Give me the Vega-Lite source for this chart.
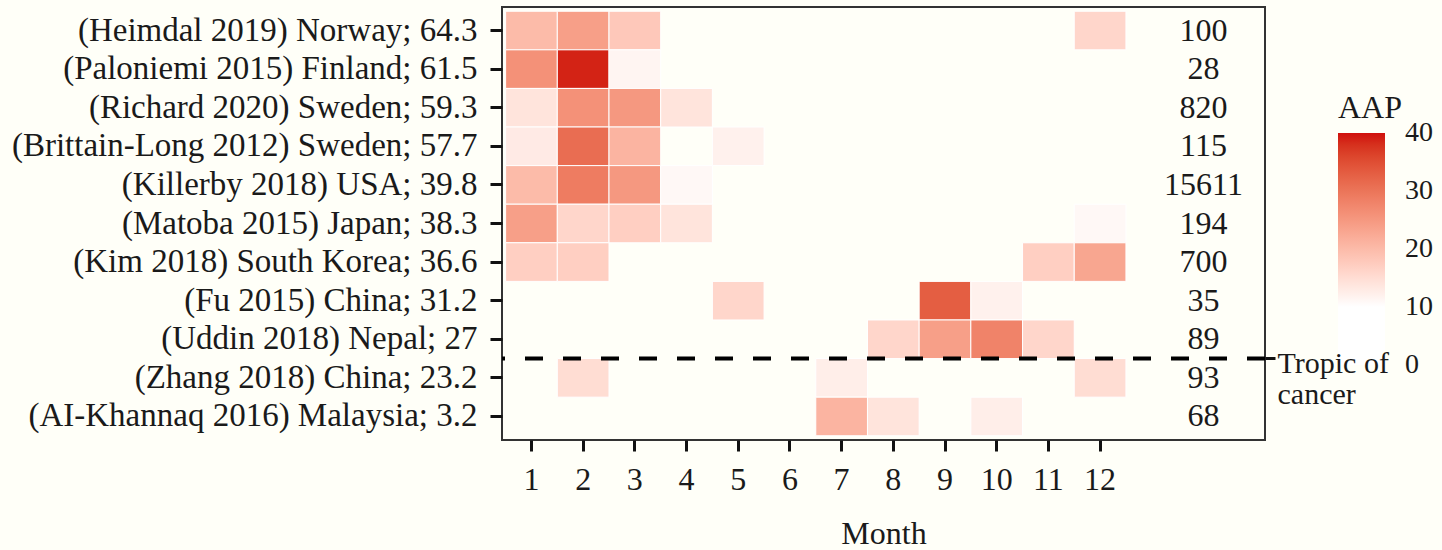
{
  "$schema": "https://vega.github.io/schema/vega-lite/v6.json",
  "width": 763,
  "height": 433,
  "autosize": {"type": "none"},
  "padding": {"left": 502, "top": 7, "right": 177, "bottom": 110},
  "background": "#fffff8",
  "config": {
    "font": "Liberation Serif",
    "view": {"stroke": "#333333", "strokeWidth": 2},
    "axis": {
      "domain": false,
      "grid": false,
      "tickColor": "#111111",
      "tickWidth": 3,
      "tickSize": 12,
      "labelFontSize": 32,
      "labelColor": "#1a1a1a",
      "labelLimit": 0,
      "titleFontSize": 32,
      "titleFontWeight": "normal",
      "titleColor": "#1a1a1a",
      "labelFont": "Liberation Serif",
      "titleFont": "Liberation Serif"
    },
    "legend": {
      "titleFont": "Liberation Serif",
      "labelFont": "Liberation Serif"
    }
  },
  "datasets": {
    "cells": [
      {"study": "(Heimdal 2019) Norway; 64.3", "month": 1, "aap": 20},
      {"study": "(Heimdal 2019) Norway; 64.3", "month": 2, "aap": 24},
      {"study": "(Heimdal 2019) Norway; 64.3", "month": 3, "aap": 18},
      {"study": "(Heimdal 2019) Norway; 64.3", "month": 12, "aap": 16},
      {"study": "(Paloniemi 2015) Finland; 61.5", "month": 1, "aap": 26},
      {"study": "(Paloniemi 2015) Finland; 61.5", "month": 2, "aap": 39},
      {"study": "(Paloniemi 2015) Finland; 61.5", "month": 3, "aap": 11.5},
      {"study": "(Richard 2020) Sweden; 59.3", "month": 1, "aap": 14},
      {"study": "(Richard 2020) Sweden; 59.3", "month": 2, "aap": 26},
      {"study": "(Richard 2020) Sweden; 59.3", "month": 3, "aap": 25},
      {"study": "(Richard 2020) Sweden; 59.3", "month": 4, "aap": 14},
      {"study": "(Brittain-Long 2012) Sweden; 57.7", "month": 1, "aap": 13},
      {"study": "(Brittain-Long 2012) Sweden; 57.7", "month": 2, "aap": 31},
      {"study": "(Brittain-Long 2012) Sweden; 57.7", "month": 3, "aap": 21},
      {"study": "(Brittain-Long 2012) Sweden; 57.7", "month": 5, "aap": 12},
      {"study": "(Killerby 2018) USA; 39.8", "month": 1, "aap": 20},
      {"study": "(Killerby 2018) USA; 39.8", "month": 2, "aap": 29},
      {"study": "(Killerby 2018) USA; 39.8", "month": 3, "aap": 25},
      {"study": "(Killerby 2018) USA; 39.8", "month": 4, "aap": 11},
      {"study": "(Matoba 2015) Japan; 38.3", "month": 1, "aap": 24},
      {"study": "(Matoba 2015) Japan; 38.3", "month": 2, "aap": 16},
      {"study": "(Matoba 2015) Japan; 38.3", "month": 3, "aap": 17},
      {"study": "(Matoba 2015) Japan; 38.3", "month": 4, "aap": 14},
      {"study": "(Matoba 2015) Japan; 38.3", "month": 12, "aap": 11},
      {"study": "(Kim 2018) South Korea; 36.6", "month": 1, "aap": 17},
      {"study": "(Kim 2018) South Korea; 36.6", "month": 2, "aap": 17},
      {"study": "(Kim 2018) South Korea; 36.6", "month": 11, "aap": 17},
      {"study": "(Kim 2018) South Korea; 36.6", "month": 12, "aap": 23},
      {"study": "(Fu 2015) China; 31.2", "month": 5, "aap": 16},
      {"study": "(Fu 2015) China; 31.2", "month": 9, "aap": 33},
      {"study": "(Fu 2015) China; 31.2", "month": 10, "aap": 12},
      {"study": "(Uddin 2018) Nepal; 27", "month": 8, "aap": 16},
      {"study": "(Uddin 2018) Nepal; 27", "month": 9, "aap": 24},
      {"study": "(Uddin 2018) Nepal; 27", "month": 10, "aap": 28},
      {"study": "(Uddin 2018) Nepal; 27", "month": 11, "aap": 16},
      {"study": "(Zhang 2018) China; 23.2", "month": 2, "aap": 15},
      {"study": "(Zhang 2018) China; 23.2", "month": 7, "aap": 12.5},
      {"study": "(Zhang 2018) China; 23.2", "month": 12, "aap": 15},
      {"study": "(AI-Khannaq 2016) Malaysia; 3.2", "month": 7, "aap": 21},
      {"study": "(AI-Khannaq 2016) Malaysia; 3.2", "month": 8, "aap": 14},
      {"study": "(AI-Khannaq 2016) Malaysia; 3.2", "month": 10, "aap": 12.5}
    ],
    "counts": [
      {"study": "(Heimdal 2019) Norway; 64.3", "n": "100"},
      {"study": "(Paloniemi 2015) Finland; 61.5", "n": "28"},
      {"study": "(Richard 2020) Sweden; 59.3", "n": "820"},
      {"study": "(Brittain-Long 2012) Sweden; 57.7", "n": "115"},
      {"study": "(Killerby 2018) USA; 39.8", "n": "15611"},
      {"study": "(Matoba 2015) Japan; 38.3", "n": "194"},
      {"study": "(Kim 2018) South Korea; 36.6", "n": "700"},
      {"study": "(Fu 2015) China; 31.2", "n": "35"},
      {"study": "(Uddin 2018) Nepal; 27", "n": "89"},
      {"study": "(Zhang 2018) China; 23.2", "n": "93"},
      {"study": "(AI-Khannaq 2016) Malaysia; 3.2", "n": "68"}
    ]
  },
  "layer": [
    {
      "layer": [
        {
          "data": {"name": "cells"},
          "mark": {"type": "rect", "stroke": "#ffffff", "strokeWidth": 1},
          "encoding": {
            "x": {
              "field": "month",
              "type": "ordinal",
              "scale": {"domain": [1, 2, 3, 4, 5, 6, 7, 8, 9, 10, 11, 12, 13, 14], "paddingInner": 0, "paddingOuter": 0.38, "align": 0.092},
              "axis": {"values": [1, 2, 3, 4, 5, 6, 7, 8, 9, 10, 11, 12], "labelAngle": 0, "tickSize": 11, "labelPadding": 13, "title": "Month", "titlePadding": 23}
            },
            "y": {
              "field": "study",
              "type": "nominal",
              "scale": {
                "domain": [
                  "(Heimdal 2019) Norway; 64.3",
                  "(Paloniemi 2015) Finland; 61.5",
                  "(Richard 2020) Sweden; 59.3",
                  "(Brittain-Long 2012) Sweden; 57.7",
                  "(Killerby 2018) USA; 39.8",
                  "(Matoba 2015) Japan; 38.3",
                  "(Kim 2018) South Korea; 36.6",
                  "(Fu 2015) China; 31.2",
                  "(Uddin 2018) Nepal; 27",
                  "(Zhang 2018) China; 23.2",
                  "(AI-Khannaq 2016) Malaysia; 3.2"
                ],
                "paddingInner": 0,
                "paddingOuter": 0.11
              },
              "axis": {"title": null, "labelPadding": 13, "labelFontSize": 33, "orient": "left"}
            },
            "color": {
              "field": "aap",
              "type": "quantitative",
              "scale": {"domain": [0, 10, 40], "range": ["#ffffff", "#ffffff", "#d0100c"], "interpolate": "lab"},
              "legend": {
                "title": "AAP",
                "orient": "none",
                "direction": "vertical",
                "legendX": 836,
                "legendY": 86,
                "gradientLength": 232,
                "gradientThickness": 47,
                "gradientStrokeWidth": 0,
                "values": [0, 10, 20, 30, 40],
                "labelOverlap": false,
                "labelFontSize": 28,
                "labelColor": "#1a1a1a",
                "labelOffset": 20,
                "labelBaseline": "middle",
                "titleFontSize": 32,
                "titleFontWeight": "normal",
                "titleColor": "#1a1a1a",
                "titlePadding": 8,
                "encode": {
                  "labels": {"update": {"baseline": {"value": "middle"}}}
                }
              }
            }
          }
        },
        {
          "data": {"name": "counts"},
          "mark": {"type": "text", "fontSize": 32, "align": "center", "baseline": "middle", "color": "#1a1a1a", "font": "Liberation Serif"},
          "encoding": {
            "x": {"datum": 14, "type": "ordinal"},
            "y": {"field": "study", "type": "nominal"},
            "text": {"field": "n"}
          }
        },
        {
          "data": {"values": [{}]},
          "mark": {"type": "rule", "color": "#000000", "strokeWidth": 4, "strokeDash": [18, 20]},
          "encoding": {
            "y": {"datum": "(Uddin 2018) Nepal; 27", "type": "nominal", "bandPosition": 1}
          }
        }
      ]
    },
    {
      "data": {"values": [{"s": "(Uddin 2018) Nepal; 27"}]},
      "mark": {"type": "rect", "opacity": 0},
      "encoding": {
        "y": {
          "field": "s",
          "type": "nominal",
          "scale": {
            "type": "band",
            "domain": [
              "(Heimdal 2019) Norway; 64.3",
              "(Paloniemi 2015) Finland; 61.5",
              "(Richard 2020) Sweden; 59.3",
              "(Brittain-Long 2012) Sweden; 57.7",
              "(Killerby 2018) USA; 39.8",
              "(Matoba 2015) Japan; 38.3",
              "(Kim 2018) South Korea; 36.6",
              "(Fu 2015) China; 31.2",
              "(Uddin 2018) Nepal; 27",
              "(Zhang 2018) China; 23.2",
              "(AI-Khannaq 2016) Malaysia; 3.2"
            ],
            "paddingInner": 0,
            "paddingOuter": 0.11
          },
          "axis": {
            "orient": "right",
            "title": null,
            "values": ["(Uddin 2018) Nepal; 27"],
            "bandPosition": 1,
            "labelExpr": "['Tropic of', 'cancer']",
            "labelAlign": "left",
            "labelBaseline": "top",
            "labelFontSize": 30,
            "labelOffset": 10,
            "labelLineHeight": 31,
            "labelPadding": 2,
            "tickSize": 10
          }
        }
      }
    }
  ],
  "resolve": {"scale": {"y": "independent"}, "axis": {"y": "independent"}}
}
